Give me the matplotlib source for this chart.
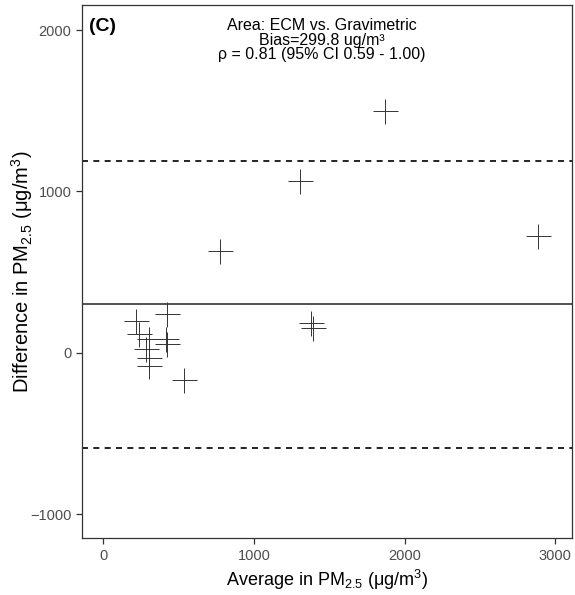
import matplotlib.pyplot as plt
import numpy as np

plt.rcParams['font.family'] = ['Liberation Sans', 'DejaVu Sans']
plt.rcParams['mathtext.fontset'] = 'custom'
plt.rcParams['mathtext.rm'] = 'Liberation Sans'
plt.rcParams['mathtext.it'] = 'Liberation Sans'
plt.rcParams['mathtext.bf'] = 'Liberation Sans:bold'

# Bland-Altman data: ECM vs. gravimetric (area samples)
average = [1870, 1308, 2886, 775, 1376, 1394, 536, 426, 217, 235, 301, 416, 423, 284, 306, 306]
difference = [1498, 1063, 723, 630, 185, 151, -169, 242, 198, 116, 85, 83, 54, 21, -35, -80]
bias = 299.8
upper_loa = 1190
lower_loa = -592

x_ticks = [0, 1000, 2000, 3000]
y_ticks = [-1000, 0, 1000, 2000]


def main():
    fig = plt.figure(figsize=(5.75, 5.95), dpi=100)
    ax = fig.add_axes([0.1426, 0.0953, 0.852, 0.8963])

    ax.axhline(bias, color='#333333', lw=1.2)
    ax.axhline(upper_loa, color='black', lw=1.2, linestyle=(0, (3.6, 3.2)))
    ax.axhline(lower_loa, color='black', lw=1.2, linestyle=(0, (3.6, 3.2)))

    ax.plot(average, difference, linestyle='none', marker='+', markersize=18,
            markeredgewidth=0.7, color='#333333')

    ax.set_xlim(-141, 3110)
    ax.set_ylim(-1150, 2155)
    ax.set_xticks(x_ticks)
    ax.set_yticks(y_ticks)
    ax.set_yticklabels(['\u22121000', '0', '1000', '2000'])

    for sp in ax.spines.values():
        sp.set_color('#333333')
        sp.set_linewidth(0.9)
    ax.tick_params(direction='out', length=4, width=0.9, color='#333333',
                   labelcolor='#4d4d4d', labelsize=10.5)

    ax.set_xlabel(r'Average in PM$_{2.5}$ ($\mu$g/m$^3$)', fontsize=13, labelpad=4)
    ax.set_ylabel(r'Difference in PM$_{2.5}$ ($\mu$g/m$^3$)', fontsize=14.5)
    ax.yaxis.set_label_coords(-0.095, 0.5)

    ax.text(0.015, 0.975, '(C)', transform=ax.transAxes, fontsize=14,
            fontweight='bold', ha='left', va='top')
    ax.text(0.49, 0.975,
            'Area: ECM vs. Gravimetric\nBias=299.8 ug/m\u00b3\n\u03c1 = 0.81 (95% CI 0.59 - 1.00)',
            transform=ax.transAxes, fontsize=11.5, ha='center', va='top',
            linespacing=0.95)

    fig.savefig('out.png', dpi=100)


if __name__ == '__main__':
    main()
